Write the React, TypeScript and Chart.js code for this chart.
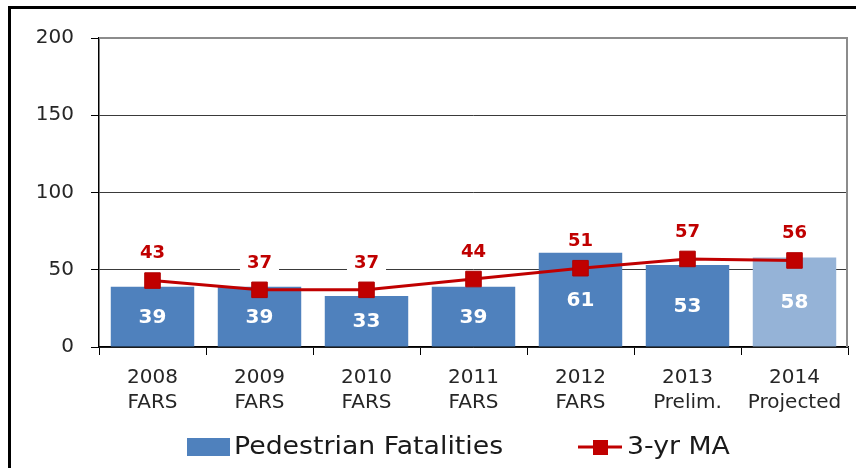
import React, { useEffect, useRef } from "react";
import { Chart, registerables } from "chart.js";

Chart.register(...registerables);

const categories: string[][] = [
  ["2008", "FARS"],
  ["2009", "FARS"],
  ["2010", "FARS"],
  ["2011", "FARS"],
  ["2012", "FARS"],
  ["2013", "Prelim."],
  ["2014", "Projected"],
];
const fatalities: number[] = [39, 39, 33, 39, 61, 53, 58];
const movingAvg: number[] = [43, 37, 37, 44, 51, 57, 56];
const barColors: string[] = ["#4F81BD", "#4F81BD", "#4F81BD", "#4F81BD", "#4F81BD", "#4F81BD", "#95B3D7"];
const yTicks: number[] = [0, 50, 100, 150, 200];
const legendLabels: string[] = ["Pedestrian Fatalities", "3-yr MA"];

const FONT = "'DejaVu Sans', sans-serif";
const RED = "#C00000";

export default function App() {
  const ref = useRef<HTMLCanvasElement | null>(null);

  useEffect(() => {
    if (!ref.current) return;

    const framePlugin = {
      id: "frame",
      beforeDraw(chart: any) {
        const ctx = chart.ctx;
        ctx.save();
        ctx.fillStyle = "#ffffff";
        ctx.fillRect(0, 0, chart.width, chart.height);
        ctx.fillStyle = "#000000";
        ctx.fillRect(8, 6, chart.width - 8, 3);
        ctx.fillRect(8, 6, 3, chart.height - 6);
        ctx.restore();
      },
      beforeDatasetsDraw(chart: any) {
        const { ctx, chartArea } = chart;
        ctx.save();
        ctx.strokeStyle = "#8c8c8c";
        ctx.lineWidth = 2;
        ctx.beginPath();
        ctx.moveTo(chartArea.left, chartArea.top);
        ctx.lineTo(chartArea.right - 1, chartArea.top);
        ctx.lineTo(chartArea.right - 1, chartArea.bottom);
        ctx.stroke();
        ctx.restore();
      },
    };

    const labelPlugin = {
      id: "labels",
      afterDatasetsDraw(chart: any) {
        const ctx = chart.ctx;
        ctx.save();
        const barMeta = chart.getDatasetMeta(0);
        ctx.font = `bold 20px ${FONT}`;
        ctx.fillStyle = "#ffffff";
        ctx.textAlign = "center";
        ctx.textBaseline = "middle";
        barMeta.data.forEach((bar: any, i: number) => {
          const cy = (bar.y + bar.base) / 2;
          ctx.fillText(String(fatalities[i]), bar.x, cy + 1);
        });
        const lineMeta = chart.getDatasetMeta(1);
        ctx.font = `bold 18px ${FONT}`;
        lineMeta.data.forEach((pt: any, i: number) => {
          const txt = String(movingAvg[i]);
          const w = ctx.measureText(txt).width + 14;
          const cy = pt.y - 27;
          ctx.fillStyle = "#ffffff";
          ctx.fillRect(pt.x - w / 2, cy - 10, w, 20);
          ctx.fillStyle = RED;
          ctx.fillText(txt, pt.x, cy);
        });
        ctx.restore();
      },
      afterDraw(chart: any) {
        const ctx = chart.ctx;
        ctx.save();
        const y = 447;
        ctx.fillStyle = "#4F81BD";
        ctx.fillRect(187, 438, 43, 18);
        ctx.strokeStyle = RED;
        ctx.lineWidth = 3;
        ctx.beginPath();
        ctx.moveTo(578, y);
        ctx.lineTo(622, y);
        ctx.stroke();
        ctx.fillStyle = RED;
        ctx.fillRect(593, y - 7, 15, 15);
        ctx.font = `25px ${FONT}`;
        ctx.fillStyle = "#1a1a1a";
        ctx.textAlign = "left";
        ctx.textBaseline = "middle";
        const drawStretched = (txt: string, x: number) => {
          ctx.save();
          ctx.translate(x, y);
          ctx.scale(1.07, 1);
          ctx.fillText(txt, 0, 0);
          ctx.restore();
        };
        drawStretched(legendLabels[0], 234);
        drawStretched(legendLabels[1], 627);
        ctx.restore();
      },
    };

    const chart = new Chart(ref.current, {
      type: "bar",
      data: {
        labels: categories,
        datasets: [
          {
            type: "bar",
            label: legendLabels[0],
            data: fatalities,
            backgroundColor: barColors,
            barPercentage: 0.78,
            categoryPercentage: 1,
            order: 2,
          },
          {
            type: "line",
            label: legendLabels[1],
            data: movingAvg,
            borderColor: RED,
            borderWidth: 3,
            pointStyle: "rect",
            pointRadius: 11,
            pointBackgroundColor: RED,
            pointBorderColor: "#B00000",
            pointBorderWidth: 1,
            tension: 0,
            order: 1,
          } as any,
        ],
      },
      options: {
        responsive: false,
        animation: false,
        devicePixelRatio: 1,
        layout: { autoPadding: false, padding: { top: 38, bottom: 41, right: 8, left: 0 } },
        plugins: {
          legend: { display: false },
          tooltip: { enabled: false },
        },
        scales: {
          x: {
            grid: {
              offset: true,
              drawOnChartArea: false,
              drawTicks: true,
              tickLength: 8,
              tickColor: "#000000",
            },
            border: { color: "#000000", width: 1.5 },
            ticks: {
              color: "#262626",
              font: { family: FONT, size: 20, lineHeight: 1.25 },
              padding: 10,
              maxRotation: 0,
              autoSkip: false,
            },
            afterFit(scale: any) {
              scale.height = 80;
              scale.paddingLeft = 0;
              scale.paddingRight = 0;
            },
          },
          y: {
            min: 0,
            max: 200,
            afterBuildTicks(scale: any) {
              scale.ticks = yTicks.map((v) => ({ value: v }));
            },
            grid: {
              color: (c: any) => (c.tick && c.tick.value === 200 ? "rgba(0,0,0,0)" : "#3a3a3a"),
              tickColor: "#000000",
              tickLength: 8,
              lineWidth: 1,
            },
            border: { color: "#000000", width: 1.5 },
            ticks: {
              color: "#262626",
              font: { family: FONT, size: 20 },
              padding: 17,
            },
            afterFit(scale: any) {
              scale.width = 99;
            },
          },
        },
      },
      plugins: [framePlugin, labelPlugin],
    });

    return () => chart.destroy();
  }, []);

  return (
    <div style={{ position: "fixed", left: 0, top: 0, width: 856, height: 468 }}>
      <canvas ref={ref} width={856} height={468} style={{ width: 856, height: 468, display: "block" }} />
    </div>
  );
}
